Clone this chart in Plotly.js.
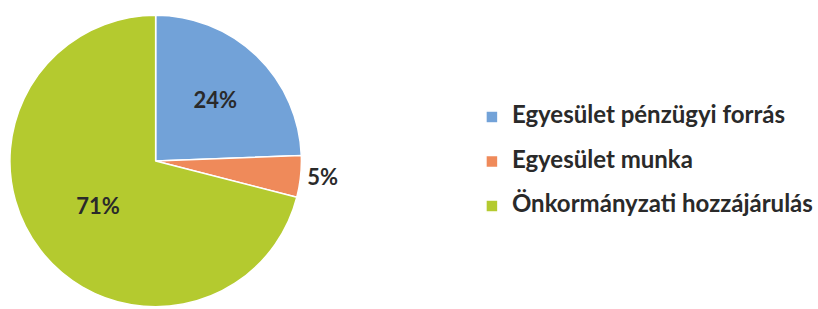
<!DOCTYPE html>
<html>
<head>
<meta charset="utf-8">
<script src="https://cdn.plot.ly/plotly-3.0.1.min.js"></script>
<style>html,body{margin:0;padding:0;background:#fff;}#chart{width:818px;height:309px;}</style>
</head>
<body>
<div id="chart"></div>
<script>
const categories = ["Egyesület pénzügyi forrás", "Egyesület munka", "Önkormányzati hozzájárulás"];
const values = [24.4, 4.6, 71.0];
const colors = ["#72a2d8", "#ef8a5a", "#b4ca2f"];
const textPositions = ["inside", "outside", "inside"];

const W = 818, H = 309;
const legendNames = categories.map(c => '<span style="font-size:24px">' + c + '</span><br> ');
const trace = {
  type: "pie",
  labels: legendNames,
  values: values,
  sort: false,
  direction: "clockwise",
  rotation: 0,
  marker: { colors: colors, line: { color: "#ffffff", width: 1.5 } },
  texttemplate: "%{percent:.0%}",
  textposition: textPositions,
  insidetextorientation: "horizontal",
  textfont: { family: "Lato, 'Open Sans', sans-serif", size: 22, color: "#2a2a2a", weight: "bold" },
  domain: { x: [10 / W, 304 / W], y: [1 - 308 / H, 1 - 14 / H] },
  hoverinfo: "percent"
};
const layout = {
  width: W, height: H,
  margin: { l: 0, r: 0, t: 0, b: 0 },
  paper_bgcolor: "#ffffff",
  plot_bgcolor: "#ffffff",
  showlegend: true,
  legend: {
    x: 476 / W, xanchor: "left",
    y: 1 - 100 / H, yanchor: "top",
    valign: "top",
    font: { family: "Lato, 'Open Sans', sans-serif", size: 16, color: "#2a2a2a", weight: "bold" },
    bgcolor: "rgba(0,0,0,0)"
  }
};
Plotly.newPlot("chart", [trace], layout, { displayModeBar: false, staticPlot: true });
</script>
</body>
</html>
